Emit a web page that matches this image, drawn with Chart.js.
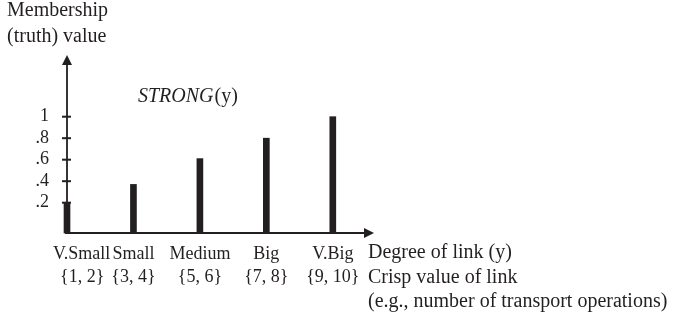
<!DOCTYPE html>
<html><head><meta charset="utf-8">
<script src="https://cdn.jsdelivr.net/npm/chart.js@4"></script>
<style>html,body{margin:0;padding:0;background:#fff}canvas{display:block}</style>
</head><body>
<canvas id="c" width="679" height="323"></canvas>
<script>
// ---- data ----
const categories = ['V.Small', 'Small', 'Medium', 'Big', 'V.Big'];
const crispValues = ['{1, 2}', '{3, 4}', '{5, 6}', '{7, 8}', '{9, 10}'];
const membership = [0.2, 0.37, 0.61, 0.8, 1.0];
const yTickValues = [0.2, 0.4, 0.6, 0.8, 1];
const yTickLabels = ['.2', '.4', '.6', '.8', '1'];
const yAxisTitle = ['Membership', '(truth) value'];
const xAxisTitle = 'Degree of link (y)';
const crispTitle = ['Crisp value of link', '(e.g., number of transport operations)'];
const seriesName = 'STRONG';
const seriesArg = '(y)';

// ---- style ----
const INK = '#231f20';
const FONT = '"Liberation Serif", "Times New Roman", serif';
const Y_MIN = -0.082, Y_MAX = 1.574;
const X_MIN = 1, X_MAX = 5.62;

const decor = {
  id: 'decor',
  afterDraw(chart) {
    const ctx = chart.ctx;
    const xs = chart.scales.x, ys = chart.scales.y;
    const a = chart.chartArea;
    const x0 = a.left, y0 = a.bottom;
    ctx.save();
    ctx.strokeStyle = INK; ctx.fillStyle = INK;
    ctx.lineWidth = 1.8;
    // y axis
    ctx.beginPath(); ctx.moveTo(x0, y0 + 1); ctx.lineTo(x0, a.top + 8); ctx.stroke();
    ctx.beginPath(); ctx.moveTo(x0, a.top); ctx.lineTo(x0 - 5, a.top + 10); ctx.lineTo(x0 + 5, a.top + 10); ctx.closePath(); ctx.fill();
    // x axis
    ctx.beginPath(); ctx.moveTo(x0 - 2, y0); ctx.lineTo(a.right - 8, y0); ctx.stroke();
    ctx.beginPath(); ctx.moveTo(a.right, y0); ctx.lineTo(a.right - 10, y0 - 5); ctx.lineTo(a.right - 10, y0 + 5); ctx.closePath(); ctx.fill();
    // y tick marks
    ctx.lineWidth = 2;
    yTickValues.forEach(v => {
      const py = ys.getPixelForValue(v);
      ctx.beginPath(); ctx.moveTo(x0 - 5, py); ctx.lineTo(x0 + 4, py); ctx.stroke();
    });
    // category + crisp labels
    ctx.font = '18px ' + FONT;
    ctx.textBaseline = 'alphabetic';
    categories.forEach((c, i) => {
      const px = xs.getPixelForValue(i + 1);
      if (i === 0) {
        ctx.textAlign = 'left';
        ctx.fillText(c, px - 14, 259);
        ctx.fillText(crispValues[i], px - 7, 282);
      } else {
        ctx.textAlign = 'center';
        ctx.fillText(c, px, 259);
        ctx.fillText(crispValues[i], px, 282);
      }
    });
    // axis titles
    ctx.textAlign = 'left';
    ctx.font = '20px ' + FONT;
    ctx.fillText(yAxisTitle[0], 7, 16);
    ctx.fillText(yAxisTitle[1], 7, 42);
    ctx.fillText(xAxisTitle, a.right - 6, 258);
    ctx.fillText(crispTitle[0], a.right - 6, 283);
    ctx.fillText(crispTitle[1], a.right - 6, 307);
    // series label
    ctx.font = 'italic 20px ' + FONT;
    ctx.fillText(seriesName, 138, 102);
    const w = ctx.measureText(seriesName).width;
    ctx.font = '20px ' + FONT;
    ctx.fillText(seriesArg, 138 + w + 1, 102);
    ctx.restore();
  }
};

new Chart(document.getElementById('c'), {
  type: 'bar',
  data: {
    datasets: [{
      label: seriesName + seriesArg,
      data: membership.map((v, i) => ({ x: i + 1, y: v })),
      backgroundColor: INK,
      borderWidth: 0,
      barThickness: 6,
      base: Y_MIN,
      clip: false
    }]
  },
  options: {
    responsive: false,
    animation: false,
    devicePixelRatio: 1,
    layout: { padding: { left: 0, top: 55, right: 305, bottom: 90 } },
    plugins: { legend: { display: false }, tooltip: { enabled: false } },
    scales: {
      x: { type: 'linear', min: X_MIN, max: X_MAX, offset: false, display: false },
      y: {
        min: Y_MIN, max: Y_MAX,
        grid: { display: false },
        border: { display: false },
        afterFit: s => { s.width = 67; },
        afterBuildTicks: s => { s.ticks = yTickValues.map(v => ({ value: v })); },
        ticks: {
          padding: 10,
          color: INK,
          font: { family: FONT, size: 18 },
          callback: (v, i) => yTickLabels[i]
        }
      }
    }
  },
  plugins: [decor]
});
</script>
</body></html>
